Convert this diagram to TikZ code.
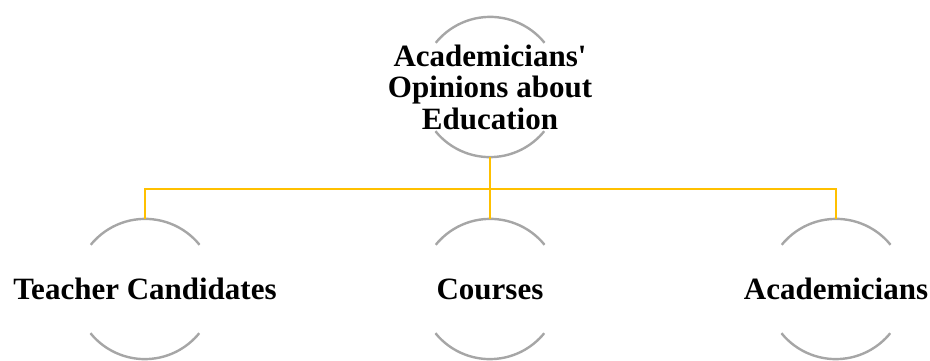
\documentclass[tikz,border=0pt]{standalone}
\usepackage{fontspec}
\newfontfamily\ringfont{Liberation Serif}
\usepackage{tikz}

\definecolor{ringgray}{HTML}{A6A6A6}
\definecolor{linkgold}{HTML}{FFC000}

\tikzset{
	ring/.style={circle, minimum size=140pt, inner sep=0pt},
	ringtext/.style={font=\ringfont\bfseries\fontsize{31}{31.5}\selectfont, align=center},
	arcline/.style={draw=ringgray, line width=2.4pt},
	link/.style={draw=linkgold, line width=2.4pt}
}

\begin{document}
\begin{tikzpicture}[x=1pt, y=1pt]
	\useasboundingbox (0,0) rectangle (930,360);

	\node[ring, label={[ringtext]center:Academicians'\\Opinions about\\Education}] (opinions) at (490,273) {};
	\node[ring, label={[ringtext]center:Teacher Candidates}] (candidates) at (145,71) {};
	\node[ring, label={[ringtext]center:Courses}] (courses) at (490,71) {};
	\node[ring, label={[ringtext]center:Academicians}] (academicians) at (836,71) {};

	\foreach \n in {opinions, candidates, courses, academicians} {
		\draw[arcline] (\n.39) arc[start angle=39, end angle=141, radius=70pt];
		\draw[arcline] (\n.219) arc[start angle=219, end angle=321, radius=70pt];
	}

	\foreach \n in {candidates, courses, academicians}
		\draw[link] (opinions.south) -- ++(0,-32) -| (\n.north);

\end{tikzpicture}
\end{document}
